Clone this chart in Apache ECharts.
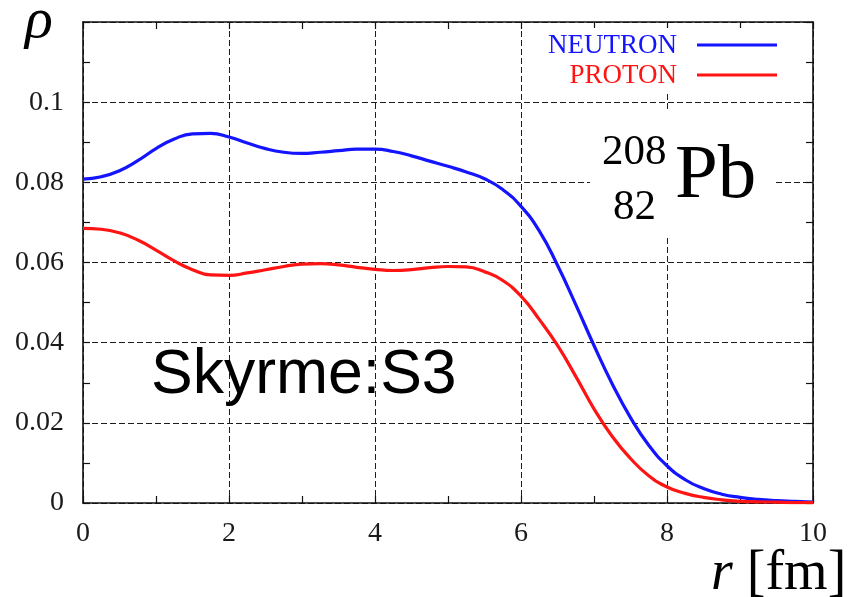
<!DOCTYPE html>
<html>
<head>
<meta charset="utf-8">
<script src="https://cdn.jsdelivr.net/npm/echarts@6/dist/echarts.min.js"></script>
<style>
  html, body { margin: 0; padding: 0; background: #fff; }
  #chart { width: 850px; height: 597px; }
</style>
</head>
<body>
<div id="chart"></div>
<script>
// Radial grid (fm)
const radius = [
  0, 0.25, 0.5, 0.75, 1, 1.25, 1.5, 1.75, 2, 2.25, 2.5, 2.75, 3, 3.25, 3.5, 3.75,
  4, 4.25, 4.5, 4.75, 5, 5.25, 5.5, 5.75, 6, 6.25, 6.5, 6.75, 7, 7.25, 7.5, 7.75,
  8, 8.25, 8.5, 8.75, 9, 9.25, 9.5, 9.75, 10
];
// Neutron density (fm^-3)
const neutronDensity = [
  0.0808, 0.0814, 0.0829, 0.0854, 0.0884, 0.0908, 0.0921, 0.0922, 0.0913, 0.0898,
  0.0884, 0.0875, 0.0872, 0.0875, 0.0879, 0.0883, 0.0883, 0.0877, 0.0866, 0.0853,
  0.0840, 0.0826, 0.0809, 0.0782, 0.0740, 0.0679, 0.0593, 0.0495, 0.0393, 0.0297,
  0.0213, 0.0144, 0.0093, 0.0058, 0.0036, 0.0022, 0.0014, 0.0009, 0.0006, 0.0004,
  0.0002
];
// Proton density (fm^-3)
const protonDensity = [
  0.0685, 0.0683, 0.0674, 0.0656, 0.0631, 0.0604, 0.0582, 0.0569, 0.0568, 0.0574,
  0.0582, 0.0590, 0.0596, 0.0597, 0.0594, 0.0588, 0.0583, 0.0580, 0.0582, 0.0587,
  0.0590, 0.0589, 0.0577, 0.0555, 0.0516, 0.0458, 0.0393, 0.0316, 0.0235, 0.0166,
  0.0111, 0.0068, 0.0040, 0.0024, 0.0014, 0.0008, 0.0004, 0.0003, 0.0002, 0.0001,
  0.0001
];
const seriesNames = ['NEUTRON', 'PROTON'];
const seriesColors = ['#1414ff', '#ff1414'];

const serif = '"Liberation Serif", "Times New Roman", serif';
const sans = '"Liberation Sans", Arial, sans-serif';
const gridLine = { show: true, lineStyle: { color: '#1e1e1e', width: 1, type: [6, 3] } };
const tick = { show: true, inside: true, length: 7, lineStyle: { color: '#111', width: 1.2 } };
const minor = { show: true, splitNumber: 2, length: 7, lineStyle: { color: '#111', width: 1.2 } };
const axisLine = { show: true, onZero: false, lineStyle: { color: '#111', width: 1.6 } };

function yLabel(v) {
  if (v > 0.11) return '';
  return String(+v.toFixed(2));
}

function label(text, x, y, size, opts) {
  return {
    type: 'text', z: 51, x, y,
    style: Object.assign({
      text, fontFamily: serif, fontSize: size, fill: '#000',
      align: 'left', verticalAlign: 'middle'
    }, opts || {})
  };
}

const chart = echarts.init(document.getElementById('chart'), null, { renderer: 'canvas' });
chart.setOption({
  animation: false,
  backgroundColor: '#fff',
  grid: { left: 83, right: 37, top: 22, bottom: 94 },
  xAxis: [
    {
      type: 'value', min: 0, max: 10, interval: 2, position: 'bottom',
      axisLine, axisTick: tick, minorTick: minor, splitLine: gridLine,
      axisLabel: { fontFamily: serif, fontSize: 28, color: '#1a1a1a', margin: 17 }
    },
    {
      type: 'value', min: 0, max: 10, interval: 2, position: 'top',
      axisLine, axisTick: tick, minorTick: minor, splitLine: { show: false },
      axisLabel: { show: false }
    }
  ],
  yAxis: [
    {
      type: 'value', min: 0, max: 0.12, interval: 0.02, position: 'left',
      axisLine, axisTick: tick, minorTick: minor, splitLine: gridLine,
      axisLabel: { fontFamily: serif, fontSize: 28, color: '#1a1a1a', margin: 19, formatter: yLabel }
    },
    {
      type: 'value', min: 0, max: 0.12, interval: 0.02, position: 'right',
      axisLine, axisTick: tick, minorTick: minor, splitLine: { show: false },
      axisLabel: { show: false }
    }
  ],
  series: [
    {
      name: seriesNames[0], type: 'line', smooth: 0.5, showSymbol: false,
      lineStyle: { color: seriesColors[0], width: 3.2 },
      data: radius.map((r, i) => [r, neutronDensity[i]]), z: 5
    },
    {
      name: seriesNames[1], type: 'line', smooth: 0.5, showSymbol: false,
      lineStyle: { color: seriesColors[1], width: 3.2 },
      data: radius.map((r, i) => [r, protonDensity[i]]), z: 5
    }
  ],
  graphic: [
    // key box
    { type: 'rect', z: 50, shape: { x: 530, y: 28, width: 258, height: 64 }, style: { fill: '#fff' } },
    label(seriesNames[0], 677, 46, 27, { fill: seriesColors[0], align: 'right' }),
    { type: 'line', z: 51, shape: { x1: 697, y1: 45, x2: 777, y2: 45 }, style: { stroke: seriesColors[0], lineWidth: 3 } },
    label(seriesNames[1], 677, 76, 27, { fill: seriesColors[1], align: 'right' }),
    { type: 'line', z: 51, shape: { x1: 697, y1: 75, x2: 777, y2: 75 }, style: { stroke: seriesColors[1], lineWidth: 3 } },
    // nucleus label
    { type: 'rect', z: 50, shape: { x: 590, y: 110, width: 184, height: 128 }, style: { fill: '#fff' } },
    label('208', 602, 153, 43),
    label('82', 613, 208, 43),
    label('Pb', 675, 177, 77),
    // interaction label
    label('Skyrme:S3', 151, 376, 62.5, { fontFamily: sans }),
    // axis names
    label('ρ', 25, 22, 58, { fontStyle: 'italic' }),
    label('{i|r} [fm]', 711, 574, 56, {
      rich: { i: { fontStyle: 'italic', fontFamily: serif, fontSize: 56, fill: '#000' } }
    })
  ]
});
</script>
</body>
</html>
